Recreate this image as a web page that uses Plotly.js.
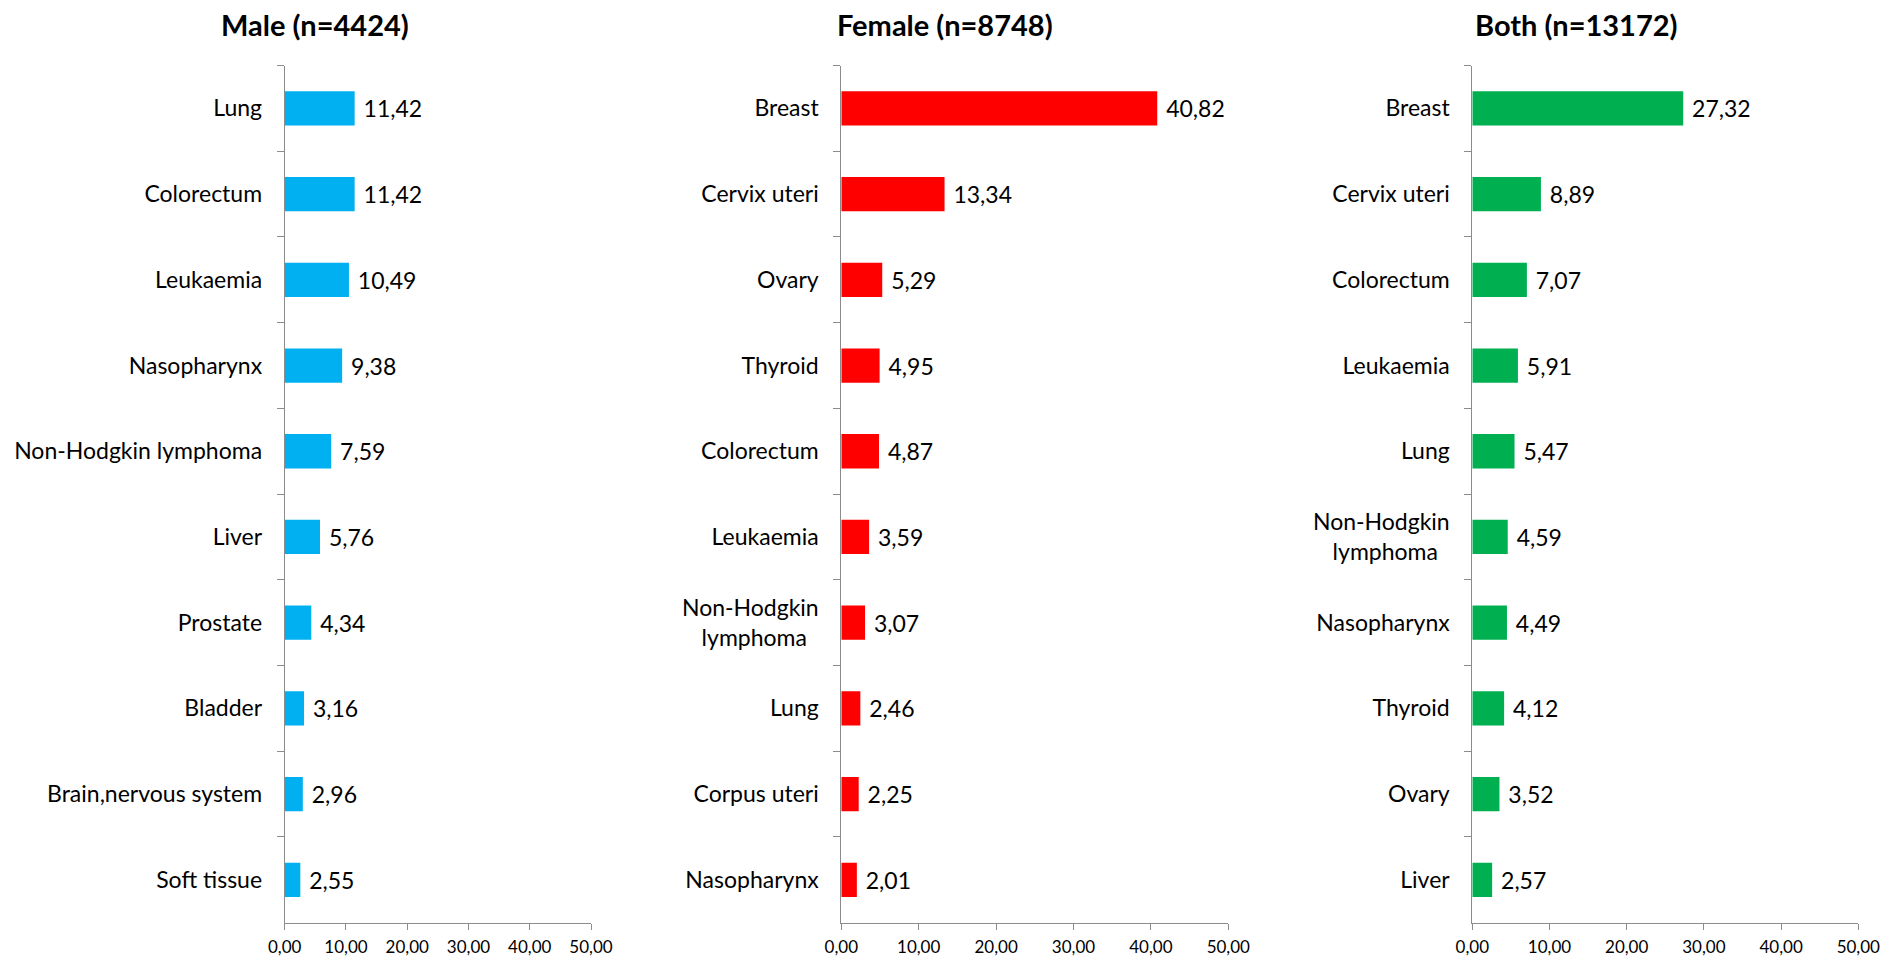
<!DOCTYPE html>
<html>
<head>
<meta charset="utf-8">
<script src="https://cdn.plot.ly/plotly-3.0.1.min.js"></script>
<style>html,body{margin:0;padding:0;background:#fff;}#chart{width:1897px;height:958px;}</style>
</head>
<body>
<div id="chart"></div>
<script>
const panelTitles = ["Male (n=4424)", "Female (n=8748)", "Both (n=13172)"];
const maleCategories = ["Lung", "Colorectum", "Leukaemia", "Nasopharynx", "Non-Hodgkin lymphoma", "Liver", "Prostate", "Bladder", "Brain,nervous system", "Soft tissue"];
const maleValues = [11.42, 11.42, 10.49, 9.38, 7.59, 5.76, 4.34, 3.16, 2.96, 2.55];
const femaleCategories = ["Breast", "Cervix uteri", "Ovary", "Thyroid", "Colorectum", "Leukaemia", "Non-Hodgkin<br>lymphoma\u00A0\u00A0", "Lung", "Corpus uteri", "Nasopharynx"];
const femaleValues = [40.82, 13.34, 5.29, 4.95, 4.87, 3.59, 3.07, 2.46, 2.25, 2.01];
const bothCategories = ["Breast", "Cervix uteri", "Colorectum", "Leukaemia", "Lung", "Non-Hodgkin<br>lymphoma\u00A0\u00A0", "Nasopharynx", "Thyroid", "Ovary", "Liver"];
const bothValues = [27.32, 8.89, 7.07, 5.91, 5.47, 4.59, 4.49, 4.12, 3.52, 2.57];
const xTickValues = [0, 10, 20, 30, 40, 50];

const FONT = "Lato, 'Open Sans', sans-serif";
const colors = ["#00B0F0", "#FF0000", "#00B050"];
const W = 1897, H = 958;
const xDomains = [[284.7 / W, 591 / W], [841.3 / W, 1228.3 / W], [1472.3 / W, 1858.3 / W]];
const yDomain = [(H - 922.7) / H, (H - 65.5) / H];
const titleX = [315 / W, 945 / W, 1576 / W];

const series = [[maleCategories, maleValues], [femaleCategories, femaleValues], [bothCategories, bothValues]];

const traces = series.map((s, i) => ({
  type: "bar",
  orientation: "h",
  x: s[1],
  y: s[0],
  xaxis: i === 0 ? "x" : "x" + (i + 1),
  yaxis: i === 0 ? "y" : "y" + (i + 1),
  marker: {color: colors[i], line: {width: 0}},
  texttemplate: "\u00A0%{x:.2f}",
  textposition: "outside",
  constraintext: "none",
  cliponaxis: false,
  textfont: {family: FONT, size: 23, color: "#000"},
  hoverinfo: "skip",
  showlegend: false
}));

const layout = {
  width: W, height: H,
  margin: {l: 0, r: 0, t: 0, b: 0},
  paper_bgcolor: "#fff",
  plot_bgcolor: "#fff",
  separators: ",.",
  bargap: 0.6,
  showlegend: false,
  annotations: panelTitles.map((t, i) => ({
    text: t, xref: "paper", yref: "paper",
    x: titleX[i], y: (H - 24) / H, xanchor: "center", yanchor: "middle",
    showarrow: false, font: {family: FONT, size: 29, color: "#000", weight: "bold"}
  }))
};

for (let i = 0; i < 3; i++) {
  const sfx = i === 0 ? "" : String(i + 1);
  layout["xaxis" + sfx] = {
    domain: xDomains[i], anchor: "y" + sfx,
    range: [0, 50], tickvals: xTickValues, tickformat: ".2f",
    showline: true, linecolor: "#8c8c8c", linewidth: 1,
    ticks: "outside", ticklen: 6, tickcolor: "#8c8c8c",
    showgrid: false, zeroline: false, fixedrange: true,
    ticklabelstandoff: 3,
    tickfont: {family: FONT, size: 17, color: "#000"}
  };
  layout["yaxis" + sfx] = {
    domain: yDomain, anchor: "x" + sfx, type: "category",
    range: [9.5, -0.5],
    showline: true, linecolor: "#8c8c8c", linewidth: 1,
    ticks: "outside", ticklen: 7, tickcolor: "#8c8c8c", tickson: "boundaries",
    showgrid: false, zeroline: false, fixedrange: true,
    ticklabelstandoff: 17,
    tickfont: {family: FONT, size: 23, color: "#000"}
  };
}

Plotly.newPlot("chart", traces, layout, {displayModeBar: false, staticPlot: true});
</script>
</body>
</html>
